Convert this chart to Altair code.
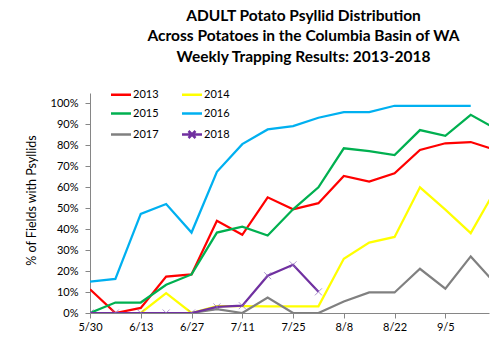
import json
import altair as alt
import pandas as pd

weeks = ['5/30', '6/6', '6/13', '6/20', '6/27', '7/4', '7/11', '7/18', '7/25',
         '8/1', '8/8', '8/15', '8/22', '8/29', '9/5', '9/12', '9/19']
years = ['2013', '2014', '2015', '2016', '2017', '2018']
colors = ['#FF0000', '#FFFF00', '#00B050', '#00B0F0', '#808080', '#7030A0']

v2013 = [11.3, 0, 2.4, 17.4, 18.4, 44.0, 37.3, 55.2, 49.5, 52.4, 65.4, 62.7, 66.7, 77.8, 81.0, 81.6, 77.7]
v2014 = [0, 0, 0, 9.5, 0, 3.3, 3.3, 3.2, 3.2, 3.2, 25.9, 33.6, 36.3, 60.0, 49.3, 38.1, 59.4]
v2015 = [0, 5.0, 5.0, 13.5, 18.4, 38.4, 41.2, 37.0, 49.5, 60.0, 78.6, 77.3, 75.4, 87.3, 84.6, 94.6, 87.8]
v2016 = [15.0, 16.3, 47.3, 52.0, 38.4, 67.4, 80.6, 87.6, 89.2, 93.2, 95.9, 95.9, 98.9, 98.9, 98.9, 98.9, None]
v2017 = [0, 0, 0, 0, 0, 1.9, 0, 7.4, 0, 0, 5.5, 9.8, 9.8, 21.1, 11.6, 27.0, 13.6]
v2018 = [0, 0, 0, 0, 0, 2.9, 3.5, 17.8, 23.0, 10.1, None, None, None, None, None, None, None]

series = [v2013, v2014, v2015, v2016, v2017, v2018]
rows = []
for yr, vals in zip(years, series):
    for i, v in enumerate(vals):
        if v is not None:
            rows.append({'year': yr, 'week': i, 'pct': v / 100.0})
df = pd.DataFrame(rows)

FONT = 'Lato'
line_path = 'M-1.375,0L3.625,0'
x_path = 'M-1.375,0L3.625,0M0.25,-0.875L2,0.875M0.25,0.875L2,-0.875'
shape_expr = f"datum.label === '2018' ? '{x_path}' : '{line_path}'"

xscale = alt.Scale(domain=[0, 15.72], nice=False, zero=False)
yscale = alt.Scale(domain=[0, 1.05], nice=False)

x_enc = alt.X('week:Q', scale=xscale,
              axis=alt.Axis(values=list(range(0, 15, 2)),
                            labelExpr=f"{json.dumps(weeks)}[datum.value]",
                            title=None, grid=False, tickSize=5, labelPadding=3,
                            labelFlush=False, labelOverlap=False))
y_enc = alt.Y('pct:Q', scale=yscale,
              axis=alt.Axis(values=[round(i * 0.1, 1) for i in range(11)],
                            format='.0%', tickCount=11,
                            title='% of Fields with Psyllids', grid=False,
                            tickSize=5, labelPadding=7, labelOverlap=False,
                            titleX=-59, titleY=107, titleAngle=-90,
                            titleAlign='center', titleBaseline='middle'))

lines = alt.Chart(df).mark_line(strokeWidth=2.25, clip=True).encode(
    x=x_enc,
    y=y_enc,
    color=alt.Color('year:N', scale=alt.Scale(domain=years, range=colors),
                    legend=alt.Legend(orient='none', legendX=21, legendY=-4,
                                      direction='horizontal',
                                      columns=2, title=None, padding=0,
                                      symbolSize=64, symbolStrokeWidth=2.5,
                                      symbolType={'expr': shape_expr},
                                      labelFont=FONT, labelFontSize=11,
                                      labelColor='#000000',
                                      labelOffset=11, columnPadding=18,
                                      rowPadding=7)),
)

pts = alt.Chart(df[df['year'] == '2018']).mark_point(
    shape='M-1,-1L1,1M-1,1L1,-1', size=49, strokeWidth=1,
    color='#8E6BBF', filled=False, clip=True
).encode(x=x_enc, y=y_enc)

chart = alt.layer(lines, pts).properties(
    width=399, height=220,
    padding={'left': 90, 'top': 93, 'right': 8, 'bottom': 30},
    autosize=alt.AutoSizeParams(type='none'),
    title=alt.Title(['ADULT Potato Psyllid Distribution',
                     'Across Potatoes in the Columbia Basin of WA',
                     'Weekly Trapping Results: 2013-2018'],
                    font=FONT, fontSize=15.5, fontWeight='bold', lineHeight=20.5,
                    anchor='middle', frame='group', dx=14, offset=24,
                    color='#000000'),
).configure_view(stroke=None).configure_axis(
    domainColor='#868686', tickColor='#868686', labelFont=FONT,
    labelFontSize=11, labelColor='#000000', titleFont=FONT, titleFontSize=12.5,
    titleFontWeight='normal', titleColor='#000000'
)

chart.save('out.html', embed_options={'renderer': 'svg', 'actions': False})
